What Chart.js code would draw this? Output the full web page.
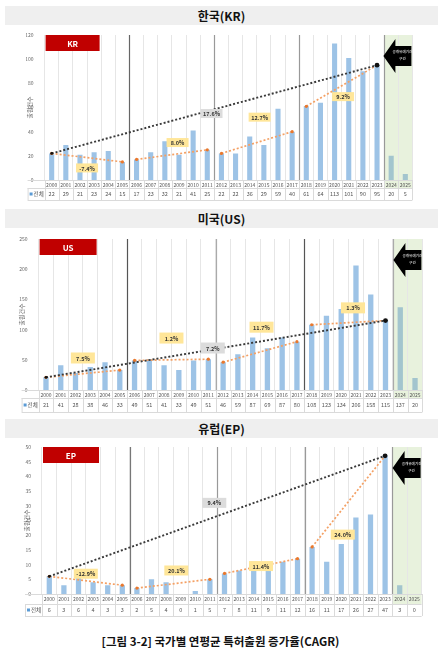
<!DOCTYPE html>
<html><head><meta charset="utf-8">
<script src="https://cdn.jsdelivr.net/npm/chart.js@4/dist/chart.umd.min.js"></script>
<style>
body{margin:0;width:441px;height:657px;background:#fff;position:relative;overflow:hidden;font-family:"Noto Sans CJK KR","Noto Sans",sans-serif;}
.hdr{position:absolute;left:5px;width:433px;height:19px;background:#efefef;text-align:center;font-size:12px;font-weight:bold;line-height:19px;color:#111;}
canvas{position:absolute;left:0;}
.cap{position:absolute;left:0;width:441px;top:633px;text-align:center;font-size:11.5px;font-weight:bold;color:#111;}
</style></head><body>
<div class="hdr" style="top:6px">한국(KR)</div>
<canvas id="kr" width="441" height="180" style="top:26px"></canvas>
<div class="hdr" style="top:209px">미국(US)</div>
<canvas id="us" width="441" height="186" style="top:229px"></canvas>
<div class="hdr" style="top:419px">유럽(EP)</div>
<canvas id="ep" width="441" height="185" style="top:439px"></canvas>
<div class="cap">[그림 3-2] 국가별 연평균 특허출원 증가율(CAGR)</div>
<script>
const years = ['2000','2001','2002','2003','2004','2005','2006','2007','2008','2009','2010','2011','2012','2013','2014','2015','2016','2017','2018','2019','2020','2021','2022','2023','2024','2025'];
const krValues = [22,29,21,23,24,15,17,23,32,21,41,25,22,22,36,29,59,40,61,64,113,101,90,95,20,5];
const usValues = [21,41,28,38,46,33,49,51,41,33,49,51,46,59,87,69,87,80,108,123,134,206,158,115,137,20];
const epValues = [6,3,6,4,3,3,2,5,4,0,1,5,7,8,11,9,11,12,16,11,17,26,27,47,3,0];
const periodStarts = [0,6,12,18];
const periodEnds = [5,11,17,23];
const totalSpan = [0,23];
const krRates = ['-7.4%','8.0%','12.7%','9.2%'];
const usRates = ['7.5%','1.2%','11.7%','1.3%'];
const epRates = ['-12.9%','20.1%','11.4%','24.0%'];
const krTotalRate = '17.6%';
const usTotalRate = '7.2%';
const epTotalRate = '9.4%';
const legendLabel = '전체';
const arrowText = ['공개유예기간','구간'];

Chart.defaults.font.family = "'Noto Sans CJK KR','Noto Sans',sans-serif";

function seg(values,i0,i1){return values.map((v,i)=>(i===i0||i===i1)?v:null);}

function build(id, code, values, rates, totalRate, cfg){
  const barColors = values.map((v,i)=> i>=24 ? 'rgba(140,182,200,0.75)' : '#9dc3e6');
  const datasets = [{type:'bar',data:values,backgroundColor:barColors,barPercentage:0.36,categoryPercentage:1,order:10}];
  periodStarts.forEach((s,k)=>{
    datasets.push({type:'line',data:seg(values,s,periodEnds[k]),spanGaps:true,borderColor:'#f4a064',borderWidth:1.7,borderDash:[2,2],
      pointRadius:(c)=>c.raw==null?0:1.6,pointBackgroundColor:'#e8782e',pointBorderWidth:0,order:2});
  });
  datasets.push({type:'line',data:seg(values,totalSpan[0],totalSpan[1]),spanGaps:true,borderColor:'#3a3a3a',borderWidth:1.9,borderDash:[2,2],
    pointRadius:(c)=>c.raw==null?0:(c.dataIndex===totalSpan[1]?2.4:1.4),pointBackgroundColor:'#111',pointBorderWidth:0,order:1});

  const deco = {
    id:'deco'+code,
    beforeDraw(chart){
      const {ctx, chartArea:a, scales:{x}} = chart;
      ctx.save();
      const gx = x.getPixelForValue(23.5);
      ctx.fillStyle='rgba(226,239,212,0.8)';
      ctx.fillRect(gx,a.top,a.right-gx,a.bottom-a.top+cfg.row1);
      ctx.restore();
    },
    beforeDatasetsDraw(chart){
      const {ctx, chartArea:a, scales:{x}} = chart;
      ctx.save();
      [5.5,11.5,17.5,23.5].forEach((b,k)=>{
        const px = Math.round(x.getPixelForValue(b))+0.5;
        ctx.strokeStyle = cfg.sepColors[k]; ctx.lineWidth=1.2;
        ctx.beginPath(); ctx.moveTo(px,a.top); ctx.lineTo(px,a.bottom); ctx.stroke();
      });
      ctx.restore();
    },
    afterDatasetsDraw(chart){
      const {ctx, chartArea:a, scales:{x,y}} = chart;
      ctx.save();
      ctx.fillStyle='#c00000';
      ctx.fillRect(a.left+1,a.top,cfg.boxW,16);
      ctx.fillStyle='#fff'; ctx.font='bold 8px "Noto Sans CJK KR"'; ctx.textAlign='center'; ctx.textBaseline='middle';
      ctx.fillText(code,a.left+1+cfg.boxW/2,a.top+8.5);
      const drawLabel=(txt,pos,fill)=>{
        const px=x.getPixelForValue(pos[0]), py=y.getPixelForValue(pos[1]);
        const w=cfg.lblW,h=cfg.lblH;
        ctx.fillStyle=fill; ctx.fillRect(px-w/2,py-h/2,w,h);
        ctx.fillStyle='#333'; ctx.font='bold 5.5px "Noto Sans CJK KR"';
        ctx.fillText(txt,px,py+0.5);
      };
      rates.forEach((r,k)=>drawLabel(r,cfg.rateAt[k],'#ffe699'));
      drawLabel(totalRate,cfg.totalAt,'#dcdcdc');
      const R=a.right-1, T=a.top;
      ctx.fillStyle='#000';
      ctx.beginPath();
      ctx.moveTo(R-28,T+21); ctx.lineTo(R-16,T+4); ctx.lineTo(R-16,T+11); ctx.lineTo(R,T+11);
      ctx.lineTo(R,T+31); ctx.lineTo(R-16,T+31); ctx.lineTo(R-16,T+38); ctx.closePath(); ctx.fill();
      ctx.fillStyle='#fff'; ctx.font='3.6px "Noto Sans CJK KR"';
      ctx.fillText(arrowText[0],R-9,T+17); ctx.fillText(arrowText[1],R-9,T+24);
      ctx.restore();
    },
    afterDraw(chart){
      const {ctx, chartArea:a, scales:{x}} = chart;
      ctx.save();
      const t0=a.bottom, t1=a.bottom+cfg.row1, t2=t1+cfg.row2, L=a.left-cfg.legW;
      ctx.strokeStyle='#dadada'; ctx.lineWidth=1;
      [t0,t1,t2].forEach(v=>{ctx.beginPath();ctx.moveTo(L,Math.round(v)+0.5);ctx.lineTo(a.right,Math.round(v)+0.5);ctx.stroke();});
      for(let b=-0.5;b<=25.5;b++){
        const px=Math.round(x.getPixelForValue(b))+0.5;
        ctx.beginPath();ctx.moveTo(px,t0);ctx.lineTo(px,t2);ctx.stroke();
      }
      ctx.beginPath();ctx.moveTo(L+0.5,t1);ctx.lineTo(L+0.5,t2);ctx.stroke();
      ctx.fillStyle='#555'; ctx.font='5.5px "Noto Sans CJK KR"'; ctx.textAlign='center'; ctx.textBaseline='middle';
      values.forEach((v,i)=>ctx.fillText(String(v),x.getPixelForValue(i),(t1+t2)/2));
      ctx.fillStyle='#5b9bd5'; ctx.fillRect(L+2,(t1+t2)/2-1.5,3,3);
      ctx.fillStyle='#555'; ctx.textAlign='left'; ctx.font='5.5px "Noto Sans CJK KR"';
      ctx.fillText(legendLabel,L+6,(t1+t2)/2);
      ctx.restore();
    }
  };

  new Chart(document.getElementById(id),{
    data:{labels:years,datasets},
    options:{
      responsive:false,animation:false,
      layout:{padding:{left:cfg.padL,right:cfg.padR,top:cfg.padT,bottom:cfg.padB}},
      plugins:{legend:{display:false},tooltip:{enabled:false}},
      scales:{
        x:{grid:{color:'#e6e6e6',drawTicks:false,offset:true},border:{color:'#cfcfcf'},
           ticks:{font:{size:5},color:'#555',padding:2,maxRotation:0,autoSkip:false},
           afterFit(s){s.height=cfg.row1;}},
        y:{min:0,max:cfg.max,ticks:{stepSize:cfg.step,font:{size:5},color:'#666',padding:3},
           grid:{display:false},border:{display:false},
           title:{display:true,text:'출원건수',font:{size:6},color:'#666',padding:0},
           afterFit(s){s.width=cfg.yW;}}
      }
    },
    plugins:[deco]
  });
}

build('kr','KR',krValues,krRates,krTotalRate,{
  padL:26,padR:28.6,padT:9,padB:18,yW:18.6,row1:8,row2:12,legW:17,max:120,step:20,boxW:54,lblW:22,lblH:9,
  sepColors:['#666','#999','#999','#999'],
  rateAt:[[2.5,10],[8.9,31],[14.7,52],[20.6,69]],totalAt:[11.3,55]});
build('us','US',usValues,usRates,usTotalRate,{
  padL:18,padR:18.6,padT:10,padB:17,yW:20.6,row1:8,row2:14,legW:17,max:250,step:50,boxW:57,lblW:24,lblH:11,
  sepColors:['#555','#aaa','#555','#aaa'],
  rateAt:[[2.5,53],[8.5,86],[14.6,104],[20.8,136]],totalAt:[11.3,69.5]});
build('ep','EP',epValues,epRates,epTotalRate,{
  padL:23,padR:19.4,padT:8,padB:20,yW:19,row1:10,row2:12,legW:17,max:50,step:5,boxW:56,lblW:24,lblH:10,
  sepColors:['#777','#999','#999','#999'],
  rateAt:[[2.5,6.9],[8.7,8],[14.5,9.5],[20.1,20.2]],totalAt:[11.3,31]});
</script>
</body></html>
